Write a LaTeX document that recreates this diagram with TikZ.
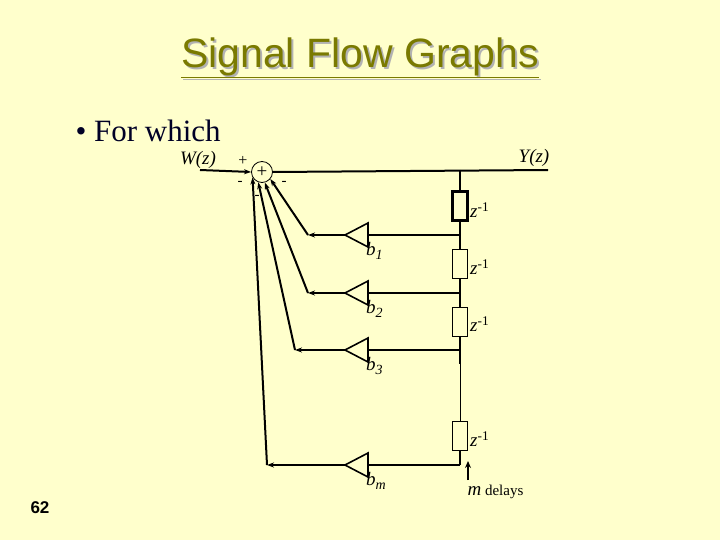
\documentclass[tikz,border=0pt]{standalone}
\usepackage{fontspec}
\setsansfont{Liberation Sans}
\setmainfont{Liberation Serif}
\usetikzlibrary{arrows.meta}
\definecolor{bg}{HTML}{FFFFCC}
\definecolor{olive}{HTML}{7A7A00}
\begin{document}
\begin{tikzpicture}[x=1pt,y=-1pt,
  wire/.style={line width=2pt},
  fb/.style={line width=2pt,-{Stealth[length=7pt,width=5pt]}},
  delay/.style={draw,line width=1pt,fill=bg,minimum width=15pt,minimum height=29pt,inner sep=0pt},
  amp/.style={draw,line width=1.6pt},
  lab/.style={font=\fontsize{19}{19}\selectfont\itshape,inner sep=0pt}]
\fill[bg] (0,0) rectangle (720,540);
\useasboundingbox (0,0) rectangle (720,540);
% title
\node[text=gray!60,font=\sffamily\fontsize{41}{41}\selectfont] at (362,60) {\underline{Signal Flow Graphs}};
\node[text=olive,font=\sffamily\fontsize{41}{41}\selectfont] (title) at (360,58) {\underline{Signal Flow Graphs}};
\node[anchor=west,font=\fontsize{31}{31}\selectfont,text=black!85!blue] (bul) at (72,131) {\textbullet\ For which};
% sum
\node[draw,circle,line width=0.8pt,minimum size=21pt,inner sep=0pt,font=\fontsize{19}{19}\selectfont] (s) at (262,172) {+};
\node[lab] (w) at (198,160) {W(z)};
\coordinate (win) at (200,170);
\draw[fb] (win) -- (s.west);
\coordinate (yend) at (548,170);
\coordinate (top) at (460,170);
\draw[wire] (s.east) -- (yend);
\node[lab] (y) at (534,158) {Y(z)};
% vertical chain
\node[delay,line width=2.2pt] (d1) at (460,206) {};
\node[delay] (d2) at (460,264) {};
\node[delay] (d3) at (460,322) {};
\node[delay] (d4) at (460,436) {};
\coordinate (t1) at (460,235);
\coordinate (t2) at (460,293);
\coordinate (t3) at (460,350);
\coordinate (t4) at (460,465);
\draw[wire] (top) -- (d1.north) (d1.south) -- (t1) -- (d2.north) (d2.south) -- (t2) -- (d3.north) (d3.south) -- (t3) -- ++(0,14);
\draw[line width=0.9pt] (t3) -- (d4.north);
\draw[wire] (d4.south) -- (t4);
\foreach \yy in {210,267,324,439}{
  \node[lab,anchor=west] at (470,\yy) {z\textsuperscript{\upshape -1}};
}
% amps
\foreach \i/\yy/\xe/\lbl in {1/235/308/1,2/293/308/2,3/350/295/3,4/465/267/m}{
  \draw[amp,fill=bg] (368,\yy-12) -- (345,\yy) -- (368,\yy+12) -- cycle;
  \coordinate (a\i) at (345,\yy);
  \coordinate (c\i) at (\xe,\yy);
  \draw[wire] (t\i) -- (368,\yy);
  \draw[fb] (a\i) -- (c\i);
  \node[lab,anchor=west] at (366,\yy+16) {b\raisebox{-4pt}{\fontsize{14}{14}\selectfont\lbl}};
}
\draw[fb] (c1) -- (s.-40);
\draw[fb] (c2) -- (s.-75);
\draw[fb] (c3) -- (s.-110);
\draw[fb] (c4) -- (s.-150);
% signs
\node[font=\fontsize{16}{16}\selectfont] at (243,161) {+};
\node[font=\fontsize{15}{15}\selectfont] at (240,183) {-};
\node[font=\fontsize{15}{15}\selectfont] at (257,197) {-};
\node[font=\fontsize{15}{15}\selectfont] at (284,183) {-};
% m delays
\coordinate (ma) at (468,480);
\coordinate (mb) at (468,461);
\draw[line width=1.6pt,-{Stealth[length=7pt,width=6pt]}] (ma) -- (mb);
\node[anchor=west,font=\fontsize{15}{15}\selectfont] (md) at (464,492) {{\fontsize{19}{19}\selectfont\itshape m} delays};
\node[font=\sffamily\bfseries\fontsize{17}{17}\selectfont] (pg) at (40,508) {62};
\end{tikzpicture}
\end{document}
